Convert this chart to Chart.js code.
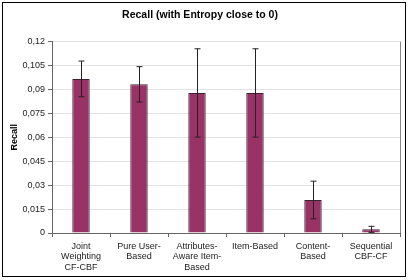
<!DOCTYPE html>
<html>
<head>
<meta charset="utf-8">
<script src="https://cdn.jsdelivr.net/npm/chart.js@4"></script>
<style>
  html, body { margin: 0; padding: 0; background: #fff; }
  #wrap { position: relative; width: 409px; height: 280px; }
  #frame { position: absolute; left: 2px; top: 2px; width: 402px; height: 273px; border: 1.5px solid #000; pointer-events: none; }
</style>
</head>
<body>
<div id="wrap">
  <canvas id="recallChart" width="409" height="280"></canvas>
  <div id="frame"></div>
</div>
<script>
const categories = [
    ["Joint", "Weighting", "CF-CBF"],
    ["Pure User-", "Based"],
    ["Attributes-", "Aware Item-", "Based"],
    ["Item-Based"],
    ["Content-", "Based"],
    ["Sequential", "CBF-CF"]
];
const recall = [0.0966, 0.0932, 0.0878, 0.0878, 0.0207, 0.0023];
const recallErr = [0.0112, 0.0111, 0.0277, 0.0277, 0.0118, 0.0019];
const yTicks = { min: 0, max: 0.12, step: 0.015 };

function fmt(v) {
    return Number(v.toFixed(3)).toString().replace(".", ",");
}

// draws error bars + the plot frame on the right
const errorBars = {
    id: "errorBars",
    afterDatasetsDraw(chart) {
        const ctx = chart.ctx;
        const y = chart.scales.y;
        const meta = chart.getDatasetMeta(0);
        ctx.save();
        ctx.strokeStyle = "#222";
        ctx.lineWidth = 1;
        meta.data.forEach((bar, i) => {
            const top = y.getPixelForValue(recall[i] + recallErr[i]);
            const bot = y.getPixelForValue(Math.max(0, recall[i] - recallErr[i]));
            const x = Math.round(bar.x) + 0.5;
            ctx.beginPath();
            ctx.moveTo(x, top);
            ctx.lineTo(x, bot);
            ctx.moveTo(x - 3, top);
            ctx.lineTo(x + 3, top);
            ctx.moveTo(x - 3, bot);
            ctx.lineTo(x + 3, bot);
            ctx.stroke();
        });
        const a = chart.chartArea;
        ctx.strokeStyle = "#888";
        ctx.beginPath();
        ctx.moveTo(a.right + 0.5, a.top);
        ctx.lineTo(a.right + 0.5, a.bottom);
        ctx.stroke();
        ctx.restore();
    }
};

new Chart(document.getElementById("recallChart"), {
    type: "bar",
    data: {
        labels: categories,
        datasets: [{
            data: recall,
            backgroundColor: "#993366",
            borderColor: "#3a2030",
            borderWidth: 1,
            barPercentage: 0.3,
            categoryPercentage: 1
        }]
    },
    options: {
        responsive: false,
        animation: false,
        layout: { padding: { left: 0, right: 9, top: 0, bottom: 0 } },
        plugins: {
            legend: { display: false },
            tooltip: { enabled: false },
            title: {
                display: true,
                text: "Recall (with Entropy close to 0)",
                color: "#000",
                font: { family: "Liberation Sans", size: 10.5, weight: "bold" },
                padding: { top: 9, bottom: 20 }
            }
        },
        scales: {
            x: {
                grid: { drawOnChartArea: false, color: "#666", tickLength: 4 },
                border: { color: "#666" },
                ticks: {
                    color: "#222",
                    maxRotation: 0,
                    autoSkip: false,
                    padding: 4,
                    font: { family: "Liberation Sans", size: 9, lineHeight: 1.18 }
                },
                afterFit(scale) { scale.height = 47; }
            },
            y: {
                min: yTicks.min,
                max: yTicks.max,
                grid: { color: "#e3e3e3", tickLength: 4, tickColor: "#666" },
                border: { color: "#666" },
                ticks: {
                    stepSize: yTicks.step,
                    color: "#222",
                    padding: 3,
                    font: { family: "Liberation Sans", size: 9 },
                    callback: v => fmt(v)
                },
                title: {
                    display: true,
                    text: "Recall",
                    color: "#000",
                    font: { family: "Liberation Sans", size: 9, weight: "bold" },
                    padding: { top: 9, bottom: 0 }
                },
                afterFit(scale) { scale.width = 52; }
            }
        }
    },
    plugins: [errorBars]
});
</script>
</body>
</html>
